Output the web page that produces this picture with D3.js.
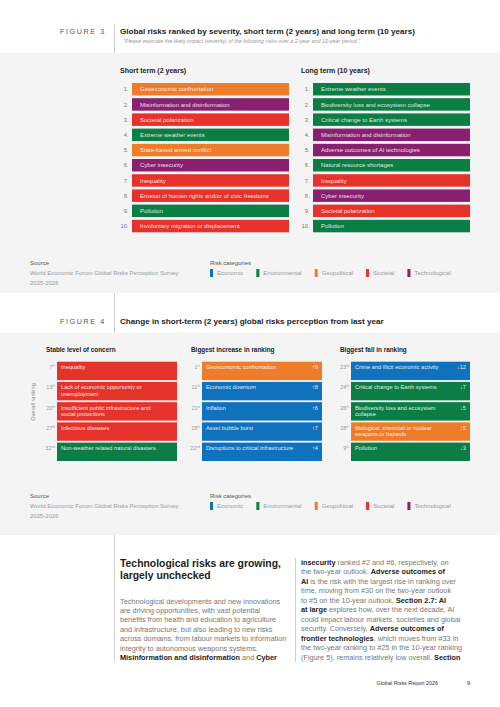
<!DOCTYPE html>
<html>
<head>
<meta charset="utf-8">
<script src="https://cdn.jsdelivr.net/npm/d3@7"></script>
<style>
  body { margin: 0; background: #fff; }
  svg { display: block; font-family: "Liberation Sans", Arial, sans-serif; }
</style>
</head>
<body>
<script>
//Variables
const width = 500;
const height = 707;

//Data
const categories = ["Economic", "Environmental", "Geopolitical", "Societal", "Technological"];
const catColors = ["#1071bd", "#0b7d45", "#ee7d2b", "#e5322a", "#88206f"];

const shortTermRisks = ["Geoeconomic confrontation", "Misinformation and disinformation", "Societal polarization",
  "Extreme weather events", "State-based armed conflict", "Cyber insecurity", "Inequality",
  "Erosion of human rights and/or of civic freedoms", "Pollution", "Involuntary migration or displacement"];
const shortTermCats = ["Geopolitical", "Technological", "Societal", "Environmental", "Geopolitical",
  "Technological", "Societal", "Societal", "Environmental", "Societal"];

const longTermRisks = ["Extreme weather events", "Biodiversity loss and ecosystem collapse", "Critical change to Earth systems",
  "Misinformation and disinformation", "Adverse outcomes of AI technologies", "Natural resource shortages",
  "Inequality", "Cyber insecurity", "Societal polarization", "Pollution"];
const longTermCats = ["Environmental", "Environmental", "Environmental", "Technological", "Technological",
  "Environmental", "Societal", "Technological", "Societal", "Environmental"];

const stableRisks = ["Inequality", "Lack of economic opportunity or\nunemployment", "Insufficient public infrastructure and\nsocial protections",
  "Infectious diseases", "Non-weather related natural disasters"];
const stableRanks = [7, 13, 20, 27, 32];
const stableCats = ["Societal", "Societal", "Societal", "Societal", "Environmental"];

const increaseRisks = ["Geoeconomic confrontation", "Economic downturn", "Inflation", "Asset bubble burst", "Disruptions to critical infrastructure"];
const increaseRanks = [1, 11, 21, 18, 22];
const increaseChange = [9, 8, 6, 7, 4];
const increaseCats = ["Geopolitical", "Economic", "Economic", "Economic", "Economic"];

const fallRisks = ["Crime and illicit economic activity", "Critical change to Earth systems", "Biodiversity loss and ecosystem\ncollapse",
  "Biological, chemical or nuclear\nweapons or hazards", "Pollution"];
const fallRanks = [23, 24, 26, 28, 9];
const fallChange = [12, 7, 5, 5, 3];
const fallCats = ["Economic", "Environmental", "Environmental", "Geopolitical", "Environmental"];

const color = d3.scaleOrdinal().domain(categories).range(catColors);

const suffix = n => (n % 10 === 1 && n !== 11) ? "st" : (n % 10 === 2 && n !== 12) ? "nd" : (n % 10 === 3 && n !== 13) ? "rd" : "th";

//SVG
const svg = d3.select("body").append("svg")
  .attr("width", width)
  .attr("height", height)
  .attr("viewBox", `0 0 ${width} ${height}`);

const grey = "#f4f4f4";
const lineCol = "#bdbdbd";

//Backgrounds
svg.append("rect").attr("x", 0).attr("y", 53).attr("width", width).attr("height", 240).attr("fill", grey);
svg.append("rect").attr("x", 0).attr("y", 333).attr("width", width).attr("height", 202).attr("fill", grey);

//Header lines
svg.append("line").attr("x1", 114.5).attr("x2", 114.5).attr("y1", 24).attr("y2", 53).attr("stroke", lineCol).attr("stroke-width", 0.7);
svg.append("line").attr("x1", 114.5).attr("x2", 114.5).attr("y1", 293).attr("y2", 333).attr("stroke", lineCol).attr("stroke-width", 0.7);
svg.append("line").attr("x1", 114.5).attr("x2", 114.5).attr("y1", 535).attr("y2", 662).attr("stroke", lineCol).attr("stroke-width", 0.7);
svg.append("line").attr("x1", 295.5).attr("x2", 295.5).attr("y1", 558).attr("y2", 662).attr("stroke", lineCol).attr("stroke-width", 0.7);

const figHeader = (y, label, title) => {
  svg.append("text").attr("x", 60).attr("y", y).text(label)
    .attr("font-size", 7.2).attr("letter-spacing", 1.6).attr("fill", "#555");
  svg.append("text").attr("x", 120).attr("y", y).text(title)
    .attr("font-size", 8.1).attr("font-weight", "bold").attr("fill", "#222");
};

//Figure 3
figHeader(34, "FIGURE 3", "Global risks ranked by severity, short term (2 years) and long term (10 years)");
svg.append("text").attr("x", 123).attr("y", 42.5)
  .text("\u201cPlease estimate the likely impact (severity) of the following risks over a 2-year and 10-year period.\u201d")
  .attr("font-size", 5.4).attr("font-style", "italic").attr("fill", "#999");

const y3 = d3.scaleBand().domain(d3.range(1, 11)).range([83, 232.3]).paddingInner(0.18);

const rankList = (x0, x1, title, risks, cats) => {
  const g = svg.append("g");
  g.append("text").attr("x", x0 - 12).attr("y", 72.5).text(title)
    .attr("font-size", 7).attr("font-weight", "bold").attr("fill", "#222");
  const rows = g.selectAll("g.row").data(risks).join("g").attr("class", "row")
    .attr("transform", (d, i) => `translate(0, ${y3(i + 1)})`);
  rows.append("rect").attr("x", x0).attr("width", x1 - x0).attr("height", y3.bandwidth())
    .attr("fill", (d, i) => color(cats[i]));
  rows.append("text").attr("x", x0 + 8).attr("y", y3.bandwidth() / 2 + 2.1)
    .text(d => d).attr("font-size", 6).attr("fill", "#fff").attr("fill-opacity", 0.88);
  rows.append("text").attr("x", x0 - 3.5).attr("y", y3.bandwidth() / 2 + 2.1).attr("text-anchor", "end")
    .text((d, i) => `${i + 1}.`).attr("font-size", 5.8).attr("fill", "#777");
};
rankList(132, 289, "Short term (2 years)", shortTermRisks, shortTermCats);
rankList(313, 470, "Long term (10 years)", longTermRisks, longTermCats);

//Legend + source
const sourceBlock = (y) => {
  svg.append("text").attr("x", 30).attr("y", y).text("Source").attr("font-size", 6).attr("fill", "#555");
  svg.append("text").attr("x", 30).attr("y", y + 10).text("World Economic Forum Global Risks Perception Survey")
    .attr("font-size", 6).attr("fill", "#999");
  svg.append("text").attr("x", 30).attr("y", y + 20).text("2025-2026").attr("font-size", 6).attr("fill", "#999");
  svg.append("text").attr("x", 210).attr("y", y).text("Risk categories").attr("font-size", 6).attr("fill", "#555");
  let x = 210;
  categories.forEach(c => {
    svg.append("rect").attr("x", x).attr("y", y + 4.5).attr("width", 3).attr("height", 8).attr("fill", color(c));
    const t = svg.append("text").attr("x", x + 7).attr("y", y + 10.5).text(c).attr("font-size", 6).attr("fill", "#999");
    x = x + 7 + t.node().getComputedTextLength() + 13;
  });
};
sourceBlock(264.5);

//Figure 4
figHeader(324, "FIGURE 4", "Change in short-term (2 years) global risks perception from last year");

const y4 = d3.scaleBand().domain(d3.range(5)).range([361.7, 461]).paddingInner(0.09);

const changePanel = (x0, x1, title, risks, ranks, cats, change, up) => {
  const g = svg.append("g");
  g.append("text").attr("x", x0 - 11).attr("y", 351.5).text(title)
    .attr("font-size", 6.4).attr("font-weight", "bold").attr("fill", "#222");
  const rows = g.selectAll("g.row").data(risks).join("g").attr("class", "row")
    .attr("transform", (d, i) => `translate(0, ${y4(i)})`);
  rows.append("rect").attr("x", x0).attr("width", x1 - x0).attr("height", y4.bandwidth())
    .attr("fill", (d, i) => color(cats[i]));
  rows.append("text").attr("x", x0 + 4).attr("y", 7.4).attr("font-size", 5.7).attr("fill", "#fff").attr("fill-opacity", 0.9)
    .each(function (d) {
      d3.select(this).selectAll("tspan").data(d.split("\n")).join("tspan")
        .attr("x", x0 + 4).attr("dy", (l, j) => j === 0 ? 0 : 6.6).text(l => l);
    });
  const rk = rows.append("text").attr("x", x0 - 2).attr("y", 7.4).attr("text-anchor", "end")
    .attr("font-size", 5.5).attr("fill", "#999");
  rk.append("tspan").text((d, i) => ranks[i]);
  rk.append("tspan").attr("font-size", 3.2).attr("dy", -1.9).text((d, i) => suffix(ranks[i]));
  if (change) {
    rows.append("text").attr("x", x1 - 4).attr("y", 7.4).attr("text-anchor", "end")
      .attr("font-size", 5.7).attr("fill", "#fff").attr("fill-opacity", 0.9)
      .text((d, i) => (up ? "\u2191" : "\u2193") + change[i]);
  }
};
changePanel(57, 177, "Stable level of concern", stableRisks, stableRanks, stableCats, null, true);
changePanel(202, 322, "Biggest increase in ranking", increaseRisks, increaseRanks, increaseCats, increaseChange, true);
changePanel(351, 470, "Biggest fall in ranking", fallRisks, fallRanks, fallCats, fallChange, false);

svg.append("text").attr("transform", "translate(34.5, 402) rotate(-90)").attr("text-anchor", "middle")
  .text("Overall ranking").attr("font-size", 5.6).attr("fill", "#888");

sourceBlock(497.5);

//Text block
svg.append("text").attr("x", 120).attr("y", 567).attr("font-size", 10.4).attr("font-weight", "bold").attr("fill", "#222")
  .selectAll("tspan").data(["Technological risks are growing,", "largely unchecked"]).join("tspan")
  .attr("x", 120).attr("dy", (d, i) => i === 0 ? 0 : 11.5).text(d => d);

const col1 = [
  [["Technological developments and new innovations", 0]],
  [["are driving opportunities, with vast potential", 0]],
  [["benefits from health and education to agriculture", 0]],
  [["and infrastructure, but also leading to new risks", 0]],
  [["across domains, from labour markets to information", 0]],
  [["integrity to autonomous weapons systems.", 0]],
  [["Misinformation and disinformation", 1], [" and ", 0], ["Cyber", 1]]
];
const col2 = [
  [["insecurity", 1], [" ranked #2 and #6, respectively, on", 0]],
  [["the two-year outlook. ", 0], ["Adverse outcomes of", 1]],
  [["AI", 1], [" is the risk with the largest rise in ranking over", 0]],
  [["time, moving from #30 on the two-year outlook", 0]],
  [["to #5 on the 10-year outlook. ", 0], ["Section 2.7: AI", 1]],
  [["at large", 1], [" explores how, over the next decade, AI", 0]],
  [["could impact labour markets, societies and global", 0]],
  [["security. Conversely, ", 0], ["Adverse outcomes of", 1]],
  [["frontier technologies", 1], [", which moves from #33 in", 0]],
  [["the two-year ranking to #25 in the 10-year ranking", 0]],
  [["(Figure 5), remains relatively low overall. ", 0], ["Section", 1]]
];
const bodyCol = (x, y0, lines) => {
  lines.forEach((segs, i) => {
    const t = svg.append("text").attr("x", x).attr("y", y0 + i * 9.45).attr("font-size", 7.3).attr("fill", "#777");
    segs.forEach(s => {
      t.append("tspan").text(s[0]).attr("font-weight", s[1] ? "bold" : null).attr("fill", s[1] ? "#222" : null);
    });
  });
};
bodyCol(120, 603.5, col1);
bodyCol(301, 565, col2);

//Footer
svg.append("text").attr("x", 438).attr("y", 685).attr("text-anchor", "end").text("Global Risks Report 2026")
  .attr("font-size", 5.4).attr("fill", "#333");
svg.append("text").attr("x", 467).attr("y", 685).text("9").attr("font-size", 5.6).attr("fill", "#333");
</script>
</body>
</html>
